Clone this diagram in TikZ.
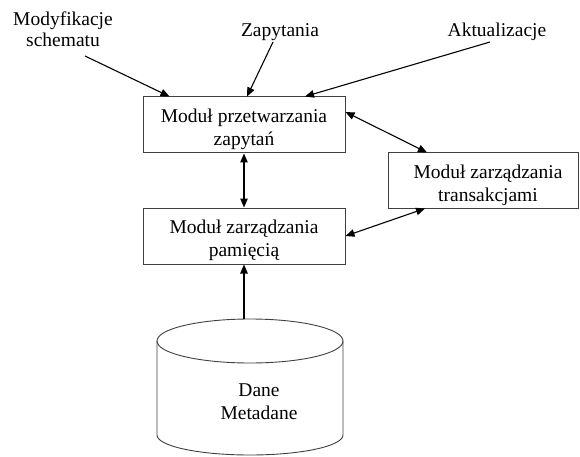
\documentclass[tikz,border=0pt]{standalone}
\usepackage{fontspec}
\setmainfont{Liberation Serif}
\usetikzlibrary{arrows.meta}
\begin{document}
\begin{tikzpicture}[x=1pt,y=-1pt,
  box/.style={draw=black!75, line width=1pt, minimum width=202pt, minimum height=56pt, inner sep=0pt},
  boxtxt/.style={align=center, inner sep=0pt, font=\fontsize{19.5}{23}\selectfont},
  lbl/.style={align=center, inner sep=0pt, font=\fontsize{19.5}{21}\selectfont},
  arr/.style={line width=1.1pt, -{Triangle[length=9pt,width=7.5pt]}},
  darr/.style={line width=1.1pt, {Triangle[length=9pt,width=7.5pt]}-{Triangle[length=9pt,width=7.5pt]}},
  cyl/.style={draw=black!75, line width=0.9pt}]
\useasboundingbox (0,0) rectangle (580,457);

% boxes
\node[box] (box1) at (244,125) {};
\node[boxtxt] (box1t) at (244,129.5) {Moduł przetwarzania\\zapytań};
\node[box] (box2) at (244,236) {};
\node[boxtxt] (box2t) at (244,240) {Moduł zarządzania\\pamięcią};
\node[box, minimum width=190pt, minimum height=55pt] (box3) at (483,180.5) {};
\node[boxtxt] (box3t) at (488,185) {Moduł zarządzania\\transakcjami};

% database cylinder
\node[inner sep=0pt, minimum width=186pt, minimum height=136pt] (db) at (250,387) {};
\draw[cyl] (250,341) ellipse [x radius=93pt, y radius=22pt];
\draw[cyl] (157,341) -- (157,435) arc[start angle=180, end angle=360, x radius=93pt, y radius=20pt] -- (343,341);
\node[boxtxt] (dbt) at (259,402) {Dane\\Metadane};

% top labels
\node[lbl] (modl) at (63,29) {Modyfikacje\\schematu};
\node[lbl, anchor=base] (zapl) at (280,37) {Zapytania};
\node[lbl, anchor=base] (aktl) at (497,37) {Aktualizacje};
\coordinate (modS) at (85,56);
\coordinate (zapS) at (273,42);
\coordinate (aktS) at (490,42);

% connectors
\draw[arr] (modS) -- ([xshift=27pt]box1.north west);
\draw[arr] (zapS) -- ([xshift=3pt]box1.north);
\draw[arr] (aktS) -- ([xshift=61pt]box1.north);
\draw[darr] ([yshift=13pt]box1.east) -- ([xshift=-56pt]box3.north);
\draw[darr] (box1.south) -- (box2.north);
\draw[darr] ([xshift=-58pt]box3.south) -- (box2.east);
\draw[arr] ([xshift=-6pt]db.north) -- (box2.south);
\end{tikzpicture}
\end{document}
